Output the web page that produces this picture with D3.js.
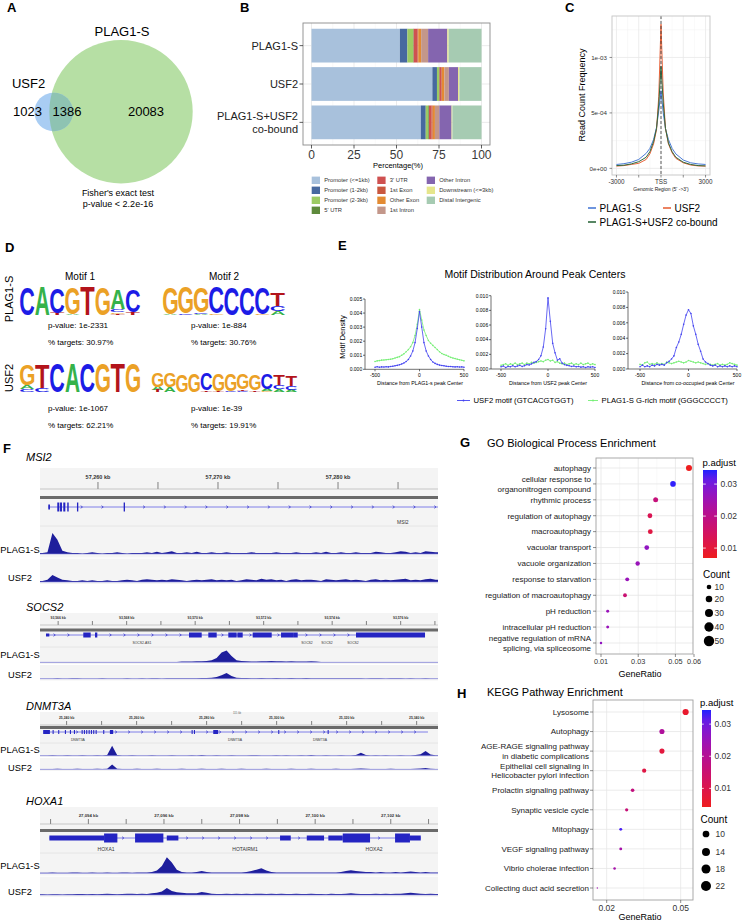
<!DOCTYPE html>
<html>
<head>
<meta charset="utf-8">
<script src="https://cdn.jsdelivr.net/npm/d3@7"></script>
<style>
html,body{margin:0;padding:0;background:#fff;}
svg{display:block;}
</style>
</head>
<body>
<script>
/* ======================= DATA ======================= */
// A – Venn
const vennSetNames = ["USF2", "PLAG1-S"];
const vennRegionCounts = [1023, 1386, 20083]; // USF2 only, overlap, PLAG1-S only
const vennNote = ["Fisher's exact test", "p-value < 2.2e-16"];

// B – peak annotation (%)
const annoGroups = ["PLAG1-S", "USF2", "PLAG1-S+USF2\nco-bound"];
const annoFeatures = ["Promoter (<=1kb)", "Promoter (1-2kb)", "Promoter (2-3kb)", "5' UTR", "3' UTR", "1st Exon", "Other Exon", "1st Intron", "Other Intron", "Downstream (<=3kb)", "Distal Intergenic"];
const annoPlag1 = [52.0, 4.4, 3.4, 0.3, 2.2, 0.5, 1.7, 4.1, 11.3, 0.8, 19.3];
const annoUsf2 = [71.1, 2.7, 1.2, 0.3, 1.0, 0.4, 1.5, 2.6, 5.4, 0.8, 13.0];
const annoCobound = [64.3, 2.9, 1.5, 0.4, 1.4, 0.8, 1.3, 2.6, 7.2, 0.5, 17.1];
const annoColors = ["#a8c1dc", "#47699f", "#9ccb63", "#5e8a3c", "#cf5150", "#c9583f", "#e38b33", "#c3978a", "#8465af", "#e6e68c", "#a6cbb2"];
const annoTicks = [0, 25, 50, 75, 100];

// C – average profile around TSS (x1e-4)
const profPos = [-3000, -2500, -2000, -1500, -1000, -750, -500, -300, -150, 0, 150, 300, 500, 750, 1000, 1500, 2000, 2500, 3000];
const profPlag1 = [0.35, 0.42, 0.55, 0.8, 1.35, 1.8, 2.6, 3.7, 5.2, 7.0, 5.0, 3.6, 2.6, 1.8, 1.3, 0.75, 0.5, 0.4, 0.35];
const profUsf2 = [0.2, 0.25, 0.35, 0.45, 0.8, 1.3, 2.2, 3.5, 6.5, 13.0, 6.8, 3.6, 2.2, 1.4, 0.9, 0.5, 0.3, 0.22, 0.2];
const profCobound = [0.25, 0.28, 0.4, 0.6, 1.0, 1.5, 2.4, 3.6, 5.8, 9.2, 5.9, 3.6, 2.3, 1.5, 1.0, 0.55, 0.35, 0.25, 0.22];
const profSeriesNames = ["PLAG1-S", "USF2", "PLAG1-S+USF2 co-bound"];
const profYTicks = [0, 5, 10];
const profYLabels = ["0e+00", "5e-04", "1e-03"];
const profXTicks = [-3000, -1500, 0, 1500, 3000];
const profXLabels = ["-3000", "", "TSS", "", "3000"];

// D – motifs: columns bottom->top [letter, bits]
const motifPlagM1 = [[["C", 2.0]], [["A", 2.0]], [["T", 0.15], ["C", 1.75]], [["A", 0.08], ["G", 1.9]], [["T", 2.0]], [["G", 1.95]], [["T", 0.1], ["G", 0.12], ["C", 0.2], ["A", 1.35]], [["T", 0.22], ["C", 1.55]]];
const motifPlagM2 = [[["A", 0.06], ["G", 1.9]], [["C", 0.1], ["G", 1.85]], [["A", 0.06], ["C", 0.12], ["G", 1.78]], [["G", 0.1], ["C", 1.85]], [["C", 1.95]], [["C", 1.95]], [["G", 0.06], ["C", 1.85]], [["A", 0.3], ["C", 0.35], ["T", 0.9]]];
const motifUsfM1 = [[["C", 0.18], ["A", 0.25], ["G", 1.4]], [["C", 0.28], ["T", 1.6]], [["C", 2.0]], [["A", 2.0]], [["C", 2.0]], [["G", 2.0]], [["T", 2.0]], [["G", 2.0]]];
const motifUsfM2 = [[["T", 0.15], ["A", 0.25], ["G", 1.15]], [["A", 0.4], ["G", 1.15]], [["G", 1.4]], [["G", 1.45]], [["T", 0.12], ["C", 1.35]], [["T", 0.1], ["G", 1.4]], [["C", 0.1], ["G", 1.35]], [["C", 0.1], ["T", 0.12], ["G", 1.25]], [["T", 0.12], ["G", 1.3]], [["G", 0.1], ["A", 0.15], ["C", 1.25]], [["A", 0.2], ["C", 0.35], ["T", 0.8]], [["A", 0.15], ["C", 0.35], ["T", 0.8]]];
const motifTitles = ["Motif 1", "Motif 2"];
const motifRows = ["PLAG1-S", "USF2"];
const motifPvalues = [["1e-2331", "1e-884"], ["1e-1067", "1e-39"]];
const motifTargets = [["30.97%", "30.76%"], ["62.21%", "19.91%"]];
const baseColors = { A: "#35b24a", C: "#1c1ce6", G: "#eba126", T: "#b3141b" };

// E – motif density (x1e-3) vs distance from peak centre
const eDist = [-500, -475, -450, -425, -400, -375, -350, -325, -300, -275, -250, -225, -200, -175, -150, -125, -100, -75, -50, -25, 0, 25, 50, 75, 100, 125, 150, 175, 200, 225, 250, 275, 300, 325, 350, 375, 400, 425, 450, 475, 500];
const e1Usf = [0.15, 0.18, 0.15, 0.17, 0.16, 0.18, 0.17, 0.2, 0.22, 0.25, 0.28, 0.32, 0.38, 0.45, 0.55, 0.7, 0.95, 1.3, 1.9, 2.9, 4.1, 3.0, 1.9, 1.3, 0.95, 0.7, 0.52, 0.42, 0.35, 0.3, 0.27, 0.25, 0.22, 0.2, 0.2, 0.18, 0.17, 0.18, 0.16, 0.17, 0.15];
const e1Grich = [0.55, 0.6, 0.62, 0.65, 0.66, 0.68, 0.7, 0.72, 0.75, 0.8, 0.85, 0.9, 1.0, 1.1, 1.25, 1.4, 1.6, 1.9, 2.4, 3.2, 4.25, 3.5, 2.8, 2.4, 2.05, 1.85, 1.7, 1.55, 1.4, 1.25, 1.12, 1.05, 1.0, 0.92, 0.85, 0.8, 0.76, 0.72, 0.68, 0.64, 0.6];
const e2Usf = [0.3, 0.4, 0.2, 0.35, 0.3, 0.45, 0.3, 0.4, 0.5, 0.35, 0.45, 0.6, 0.55, 0.7, 0.9, 1.0, 1.3, 1.8, 3.0, 5.5, 9.7, 6.5, 3.5, 2.2, 1.2, 1.4, 0.8, 0.6, 0.5, 0.45, 0.35, 0.4, 0.3, 0.35, 0.25, 0.3, 0.2, 0.3, 0.25, 0.3, 0.2];
const e2Grich = [0.5, 0.6, 0.7, 0.5, 0.7, 0.6, 0.8, 0.6, 0.7, 0.8, 0.6, 0.8, 0.7, 0.9, 0.8, 0.9, 1.0, 1.1, 1.0, 1.2, 1.3, 1.1, 1.2, 0.9, 1.0, 0.8, 0.7, 0.8, 0.6, 0.7, 0.8, 0.6, 0.7, 0.6, 0.8, 0.6, 0.7, 0.8, 0.6, 0.7, 0.6];
const e3Usf = [0.3, 0.5, 0.3, 0.4, 0.3, 0.5, 0.4, 0.6, 0.5, 0.6, 0.5, 0.8, 1.0, 1.3, 1.7, 2.8, 3.5, 4.5, 5.8, 7.0, 7.7, 7.2, 5.6, 4.5, 3.2, 2.3, 1.3, 0.9, 0.7, 0.5, 0.4, 0.5, 0.3, 0.4, 0.3, 0.4, 0.3, 0.4, 0.3, 0.4, 0.3];
const e3Grich = [0.6, 0.5, 0.8, 0.9, 0.6, 0.7, 0.6, 0.8, 0.6, 0.7, 0.6, 0.9, 0.8, 0.7, 0.8, 0.9, 1.0, 0.9, 0.8, 0.9, 1.1, 1.0, 0.9, 0.8, 0.9, 0.8, 0.7, 0.6, 0.7, 0.6, 0.5, 0.6, 0.7, 0.5, 0.6, 0.5, 0.6, 0.8, 0.7, 0.6, 0.5];
const eYTicks5 = [0, 1, 2, 3, 4, 5];
const eYTicks10 = [0, 2, 4, 6, 8, 10];
const eXTicks = [-500, 0, 500];
const eAxisTitles = ["Distance from PLAG1-s peak Center", "Distance from USF2 peak Center", "Distance from co-occupied peak Center"];
const eLegend = ["USF2 motif (GTCACGTGGT)", "PLAG1-S  G-rich motif (GGGCCCCT)"];

// F – genome browser tracks
const igvLoci = ["MSI2", "SOCS2", "DNMT3A", "HOXA1"];
const igvDomains = [[57255.17, 57288.33], [93565.47, 93577.09], [25232.4, 25346.1], [27092.72, 27103.25]];
const igvTicks = [
  [57260, 57265, 57270, 57275, 57280, 57285],
  [93566, 93567, 93568, 93569, 93570, 93571, 93572, 93573, 93574, 93575, 93576, 93577],
  [25240, 25250, 25260, 25270, 25280, 25290, 25300, 25310, 25320, 25330, 25340],
  [27093, 27094, 27095, 27096, 27097, 27098, 27099, 27100, 27101, 27102, 27103]];
const igvLabeledTicks = [
  [57260, 57270, 57280],
  [93566, 93568, 93570, 93572, 93574, 93576],
  [25240, 25260, 25280, 25300, 25320, 25340],
  [27094, 27096, 27098, 27100, 27102]];
const igvGeneSpan = [[57255.86, 57288.33], [93565.645, 93576.711], [25233.31, 25343.23], [27092.968, 27102.794]];
const igvExons = [
  [[57255.86, 57256.0, "utr"], [57256.61, 57256.78, "cds"], [57256.84, 57257.0, "cds"], [57257.11, 57257.28, "cds"], [57257.44, 57257.56, "cds"], [57258.25, 57258.36, "cds"], [57262.14, 57262.25, "cds"]],
  [[93565.645, 93565.742, "utr"], [93566.734, 93566.95, "cds"], [93567.076, 93567.143, "cds"], [93569.82, 93570.191, "cds"], [93570.384, 93570.629, "cds"], [93570.968, 93571.213, "cds"], [93571.231, 93571.388, "cds"], [93571.68, 93572.235, "cds"], [93572.507, 93572.86, "cds"], [93572.86, 93572.994, "cds"], [93574.696, 93576.711, "cds"]],
  [[25233.31, 25235.23, "cds"], [25236.0, 25236.3, "cds"], [25237.6, 25237.9, "cds"], [25239.51, 25239.81, "cds"], [25240.94, 25241.24, "cds"], [25242.09, 25242.39, "cds"], [25244.29, 25244.59, "cds"], [25244.94, 25245.24, "cds"], [25245.6, 25245.9, "cds"], [25246.29, 25246.59, "cds"], [25246.94, 25247.24, "cds"], [25247.6, 25247.9, "cds"], [25248.29, 25248.59, "cds"], [25250.46, 25250.76, "cds"], [25252.37, 25253.31, "cds"], [25275.71, 25276.01, "cds"], [25276.37, 25276.67, "cds"], [25281.89, 25283.31, "cds"], [25300.46, 25300.76, "cds"], [25314.57, 25314.87, "cds"]],
  [[27092.968, 27094.415, "utr"], [27094.415, 27094.767, "cds"], [27095.235, 27095.984, "cds"], [27096.074, 27096.381, "utr"], [27099.071, 27099.354, "utr"], [27099.778, 27100.235, "utr"], [27100.349, 27100.73, "utr"], [27100.73, 27101.452, "cds"], [27102.114, 27102.508, "cds"], [27102.508, 27102.794, "utr"]]];
const igvGeneLabels = [
  [["MSI2", 57285.4]],
  [["SOCS2-AS1", 93568.448], ["SOCS2", 93573.266], ["SOCS2", 93573.85], ["SOCS2", 93574.609]],
  [["DNMT3A", 25243.23], ["DNMT3A", 25288.09], ["DNMT3A", 25312.37]],
  [["HOXA1", 27094.468], ["HOTAIRM1", 27098.146], ["HOXA2", 27101.558]]];
const igvTrackNames = ["PLAG1-S", "USF2"];
const msi2Plag = [1, 1.5, 19, 13, 3, 1.5, 1, 1, 0.5, 1, 1.5, 1, 0.5, 1, 1, 1.5, 1, 0.5, 1, 1, 1, 1.5, 1, 2, 1, 1.5, 2.5, 1, 1, 1.5, 1, 2, 1, 1, 1.5, 1, 1, 1.5, 1, 1, 1, 1, 1.5, 1, 1, 1, 1, 1.5, 1, 1, 1, 1.5, 1, 1, 1, 1.5, 1, 2, 1, 1, 1.5, 1, 1, 1.5, 1, 1, 1, 2, 1.5, 1, 1, 1.5, 2.5, 2, 1, 1.5, 1, 2.5, 2, 1.5];
const msi2Usf = [1, 2, 6.4, 4, 2, 1.5, 1, 1, 1.5, 1, 1.5, 1, 1, 1.5, 1, 1, 1.5, 2, 1.5, 1, 2, 2.5, 2, 1.5, 2, 1.5, 2.5, 2, 1.5, 1, 1.5, 2, 1.5, 2, 2.5, 1.5, 2, 1.5, 2, 1, 1.5, 2.5, 2, 1.5, 3, 2, 2.5, 1.5, 2, 1, 2, 2.5, 1.5, 2, 2, 1.5, 1, 2.5, 2, 1.5, 2, 2.5, 1.5, 2, 1.5, 1, 2, 2.5, 1.5, 2, 1.5, 2, 2.5, 3, 1.5, 2, 1.5, 2.5, 3, 2];
const socs2Plag = [0.3, 0.3, 0.5, 0.3, 0.3, 0.5, 0.3, 0.3, 0.3, 0.5, 0.5, 0.3, 0.3, 0.5, 0.3, 0.5, 0.5, 0.3, 0.5, 0.3, 0.5, 0.3, 0.5, 0.3, 0.3, 0.5, 0.5, 0.5, 1, 1, 1, 1.5, 1.5, 2, 3, 6, 14, 17, 9, 3, 2, 1.5, 1, 1, 1.5, 1.5, 2, 1.5, 1.5, 1, 1.5, 1, 1, 1, 1.5, 1, 0.5, 0.5, 0.5, 0.3, 0.5, 0.3, 0.3, 0.5, 0.3, 0.3, 0.5, 0.3, 0.3, 0.3, 0.5, 0.3, 0.3, 0.3, 0.3, 0.3, 0.5, 0.3, 0.3, 0.3];
const socs2Usf = [0.3, 0.3, 0.3, 0.5, 0.3, 0.3, 0.5, 0.5, 0.3, 0.3, 0.3, 0.3, 0.5, 0.3, 0.3, 0.3, 0.3, 0.5, 0.3, 0.3, 0.5, 0.3, 0.5, 0.5, 0.3, 0.5, 0.5, 0.5, 0.5, 0.5, 0.5, 0.8, 1, 1, 1.5, 2.5, 5, 8, 4, 1.5, 1, 1, 0.8, 0.8, 1, 0.8, 0.8, 1, 0.8, 0.8, 1, 0.8, 0.8, 1, 0.8, 0.5, 0.5, 0.8, 0.5, 0.5, 0.5, 0.5, 0.8, 0.5, 0.5, 0.3, 0.5, 0.5, 0.5, 0.3, 0.5, 0.8, 0.5, 0.3, 0.5, 0.3, 0.3, 0.5, 0.3, 0.3];
const dnmtPlag = [0.5, 0.5, 0.8, 0.5, 0.5, 0.8, 0.5, 0.5, 0.8, 0.5, 0.5, 0.8, 0.5, 1, 16.7, 1, 0.5, 0.5, 0.8, 0.5, 0.5, 0.5, 0.8, 0.5, 0.5, 0.5, 0.8, 0.5, 0.5, 0.5, 0.8, 0.5, 1.2, 0.5, 0.5, 0.8, 0.5, 0.5, 0.8, 0.5, 0.5, 0.5, 0.8, 0.8, 0.5, 0.5, 0.5, 0.8, 0.5, 0.8, 0.5, 0.5, 0.8, 0.5, 1.2, 0.5, 0.5, 0.8, 0.5, 0.5, 0.8, 0.5, 0.5, 1, 5, 1, 0.5, 0.8, 0.5, 0.8, 0.5, 0.5, 0.8, 0.5, 0.5, 1, 2.5, 8, 2, 0.8];
const dnmtUsf = [0.5, 0.5, 0.5, 0.8, 0.5, 0.5, 0.5, 0.8, 0.5, 0.5, 0.5, 0.8, 0.5, 1, 8, 1, 0.5, 0.5, 0.5, 0.8, 0.5, 0.5, 0.5, 0.8, 0.5, 0.5, 0.5, 0.5, 0.8, 0.5, 0.5, 0.5, 0.8, 0.5, 0.5, 0.5, 0.8, 0.5, 0.5, 0.5, 0.8, 0.5, 0.5, 0.5, 0.5, 0.8, 0.5, 0.5, 0.5, 0.5, 0.8, 0.5, 0.5, 0.5, 0.8, 0.5, 0.5, 0.5, 0.5, 0.8, 0.5, 0.5, 0.5, 0.8, 1.5, 0.8, 0.5, 0.5, 0.5, 0.5, 0.8, 0.5, 0.5, 0.5, 0.5, 0.8, 1.5, 2, 1, 0.5];
const hoxaPlag = [0.5, 0.5, 0.8, 0.5, 0.5, 0.5, 0.8, 1, 0.5, 0.5, 0.8, 0.5, 0.5, 0.8, 0.5, 0.5, 0.8, 1, 0.5, 0.8, 1, 0.8, 1.5, 3, 8, 17.8, 12, 4, 1.5, 1, 1, 1.5, 2.5, 1.5, 1, 0.8, 0.8, 1, 0.8, 0.8, 1, 1.5, 2.5, 4, 5.5, 3, 1.5, 1, 0.8, 1, 0.8, 1, 0.8, 0.8, 1, 0.8, 1, 1, 0.8, 1, 1.5, 2.5, 3.3, 2.5, 2, 1.5, 1.5, 1, 1.5, 1, 1, 1.5, 1, 1.5, 2, 1.5, 1, 1.5, 1, 0.8];
const hoxaUsf = [0.8, 0.5, 0.8, 0.8, 0.5, 0.8, 0.8, 1, 1, 0.8, 1, 0.8, 1, 1.5, 1, 0.8, 1, 1.5, 1.5, 1, 1.5, 1, 2, 2.5, 4, 7.8, 4.5, 3, 2.5, 2, 2, 2, 3.3, 2.5, 1.5, 1, 1, 1.5, 1, 1.5, 1, 1.5, 1, 1.5, 1.5, 1, 1.5, 1, 1.5, 1, 1, 1.5, 1, 1, 1.5, 1, 1, 0.8, 1.5, 1, 1, 1.5, 2, 1.5, 1, 1, 1, 1.5, 1, 1.5, 1, 1.5, 1.5, 2, 2.5, 2, 1.5, 1, 1.5, 1];
const igvCoverage = [[msi2Plag, msi2Usf], [socs2Plag, socs2Usf], [dnmtPlag, dnmtUsf], [hoxaPlag, hoxaUsf]];

// G – GO enrichment
const goTerms = ["autophagy", "cellular response to\norganonitrogen compound", "rhythmic process", "regulation of autophagy", "macroautophagy", "vacuolar transport", "vacuole organization", "response to starvation", "regulation of macroautophagy", "pH reduction", "intracellular pH reduction", "negative regulation of mRNA\nsplicing, via spliceosome"];
const goRatio = [0.0573, 0.0487, 0.0394, 0.0363, 0.0365, 0.0346, 0.0297, 0.0241, 0.0229, 0.0136, 0.0136, 0.0100];
const goCount = [57, 49, 39, 36, 36, 35, 30, 24, 23, 14, 14, 10];
const goPadj = [0.007, 0.034, 0.018, 0.013, 0.011, 0.027, 0.026, 0.026, 0.017, 0.026, 0.026, 0.027];
const goXTicks = [0.01, 0.03, 0.05, 0.06];
const goColorTicks = [0.01, 0.02, 0.03];
const goSizeBreaks = [10, 20, 30, 40, 50];

// H – KEGG enrichment
const keggTerms = ["Lysosome", "Autophagy", "AGE-RAGE signaling pathway\nin diabetic complications", "Epithelial cell signaling in\nHelicobacter pylori infection", "Prolactin signaling pathway", "Synaptic vesicle cycle", "Mitophagy", "VEGF signaling pathway", "Vibrio cholerae infection", "Collecting duct acid secretion"];
const keggRatio = [0.052, 0.0424, 0.0424, 0.0352, 0.0305, 0.0281, 0.0257, 0.0257, 0.0232, 0.0162];
const keggCount = [22, 18, 18, 15, 13, 12, 11, 11, 10, 7];
const keggPadj = [0.006, 0.021, 0.008, 0.009, 0.017, 0.016, 0.033, 0.023, 0.023, 0.024];
const keggXTicks = [0.02, 0.05];
const keggColorTicks = [0.01, 0.02, 0.03];
const keggSizeBreaks = [10, 14, 18, 22];

/* ======================= DRAWING ======================= */
const FONT = "'Liberation Sans', Arial, Helvetica, sans-serif";
const svg = d3.select("body").append("svg").attr("width", 748).attr("height", 921).attr("font-family", FONT);
svg.append("rect").attr("width", 748).attr("height", 921).attr("fill", "#fff");
const defs = svg.append("defs");

function T(g, x, y, s, o = {}) {
  const t = g.append("text").attr("x", x).attr("y", y).text(s)
    .attr("font-size", o.size || 10).attr("fill", o.fill || "#000");
  if (o.anchor) t.attr("text-anchor", o.anchor);
  if (o.weight) t.attr("font-weight", o.weight);
  if (o.italic) t.attr("font-style", "italic");
  if (o.rot != null) t.attr("transform", `rotate(${o.rot},${x},${y})`);
  return t;
}
function L(g, x1, y1, x2, y2, stroke, w, dash) {
  const l = g.append("line").attr("x1", x1).attr("y1", y1).attr("x2", x2).attr("y2", y2)
    .attr("stroke", stroke).attr("stroke-width", w);
  if (dash) l.attr("stroke-dasharray", dash);
  return l;
}

// panel letters
[["A", 7, 12], ["B", 240, 12], ["C", 565, 12], ["D", 5, 252], ["E", 338, 250], ["F", 3, 453], ["G", 460, 447], ["H", 457, 698]]
  .forEach(([s, x, y]) => T(svg, x, y, s, { size: 13, weight: "bold" }));

/* ---------- A: Venn ---------- */
(function () {
  const g = svg.append("g");
  const totU = vennRegionCounts[0] + vennRegionCounts[1];
  const totP = vennRegionCounts[1] + vennRegionCounts[2];
  const rS = d3.scalePow().exponent(0.6).domain([0, totP]).range([0, 71.7]);
  const cP = { x: 121, y: 111.7, r: rS(totP) }, cU = { x: 53.7, y: 112, r: rS(totU) };
  g.append("circle").attr("cx", cP.x).attr("cy", cP.y).attr("r", cP.r).attr("fill", "#b6dfa4");
  g.append("circle").attr("cx", cU.x).attr("cy", cU.y).attr("r", cU.r).attr("fill", "#a9cdf3");
  defs.append("clipPath").attr("id", "clipP").append("circle").attr("cx", cP.x).attr("cy", cP.y).attr("r", cP.r);
  g.append("circle").attr("cx", cU.x).attr("cy", cU.y).attr("r", cU.r).attr("fill", "#8ec3b2").attr("clip-path", "url(#clipP)");
  T(g, 122, 36, vennSetNames[1], { size: 13, anchor: "middle" });
  T(g, 28.5, 88, vennSetNames[0], { size: 13, anchor: "middle" });
  T(g, 27.5, 116, String(vennRegionCounts[0]), { size: 13, anchor: "middle" });
  T(g, 67, 116, String(vennRegionCounts[1]), { size: 13, anchor: "middle" });
  T(g, 146, 116, String(vennRegionCounts[2]), { size: 13, anchor: "middle" });
  T(g, 118, 196, vennNote[0], { size: 9, anchor: "middle" });
  T(g, 118, 207, vennNote[1], { size: 9, anchor: "middle" });
})();

/* ---------- B: annotation bars ---------- */
(function () {
  const g = svg.append("g");
  const x0 = 303, x1 = 490, y0 = 23, y1 = 145;
  const x = d3.scaleLinear().domain([-5, 105]).range([x0, x1]);
  const y = d3.scaleBand().domain(annoGroups).range([y0, y1]).paddingInner(0.12).paddingOuter(0.15);
  [12.5, 37.5, 62.5, 87.5].forEach(v => L(g, x(v), y0, x(v), y1, "#f2f2f2", 0.5));
  annoTicks.forEach(v => L(g, x(v), y0, x(v), y1, "#e6e6e6", 0.8));
  annoGroups.forEach(gr => L(g, x0, y(gr) + y.bandwidth() / 2, x1, y(gr) + y.bandwidth() / 2, "#e6e6e6", 0.8));
  [annoPlag1, annoUsf2, annoCobound].forEach((vals, gi) => {
    let cum = 0;
    vals.forEach((v, fi) => {
      g.append("rect").attr("x", x(cum)).attr("y", y(annoGroups[gi]))
        .attr("width", Math.max(0, x(cum + v) - x(cum))).attr("height", y.bandwidth())
        .attr("fill", annoColors[fi]);
      cum += v;
    });
  });
  g.append("rect").attr("x", x0).attr("y", y0).attr("width", x1 - x0).attr("height", y1 - y0)
    .attr("fill", "none").attr("stroke", "#8a8a8a").attr("stroke-width", 0.9);
  annoTicks.forEach(v => {
    L(g, x(v), y1, x(v), y1 + 3.5, "#333", 0.8);
    T(g, x(v), 159, String(v), { size: 12, anchor: "middle", fill: "#3a3a3a" });
  });
  annoGroups.forEach(gr => {
    const cy = y(gr) + y.bandwidth() / 2;
    L(g, x0 - 3.5, cy, x0, cy, "#333", 0.8);
    const lines = gr.split("\n");
    lines.forEach((ln, i) => T(g, 298, cy + 4 + (i - (lines.length - 1) / 2) * 12.5, ln, { size: 11, anchor: "end", fill: "#222" }));
  });
  T(g, 398, 168, "Percentage(%)", { size: 7.5, anchor: "middle" });
  // legend
  const colX = [311.7, 377.3, 426.7], rowY = [180.3, 190.3, 200.3, 210.3];
  annoFeatures.forEach((f, i) => {
    const c = i < 4 ? 0 : (i < 8 ? 1 : 2), r = i < 4 ? i : (i < 8 ? i - 4 : i - 8);
    g.append("rect").attr("x", colX[c]).attr("y", rowY[r] - 3.7).attr("width", 8.3).attr("height", 7.4).attr("fill", annoColors[i]);
    T(g, colX[c] + 12.5, rowY[r] + 2.1, f, { size: 5.8, fill: "#333" });
  });
})();

/* ---------- C: TSS profile ---------- */
(function () {
  const g = svg.append("g");
  const x0 = 612, x1 = 710, y0 = 16, y1 = 175;
  const x = d3.scaleLinear().domain([-3300, 3300]).range([x0, x1]);
  const y = d3.scaleLinear().domain([-0.6, 13.74]).range([y1, y0]);
  g.append("rect").attr("x", x0).attr("y", y0).attr("width", x1 - x0).attr("height", y1 - y0).attr("fill", "#fff");
  [-2250, -750, 750, 2250].forEach(v => L(g, x(v), y0, x(v), y1, "#f3f3f3", 0.5));
  [2.5, 7.5, 12.5].forEach(v => L(g, x0, y(v), x1, y(v), "#f3f3f3", 0.5));
  profXTicks.forEach(v => L(g, x(v), y0, x(v), y1, "#e8e8e8", 0.8));
  profYTicks.forEach(v => L(g, x0, y(v), x1, y(v), "#e8e8e8", 0.8));
  const line = d3.line().x((d, i) => x(profPos[i])).y(d => y(d));
  const cols = ["#4a7bd6", "#e8643b", "#2f6a3e"];
  [profPlag1, profUsf2, profCobound].forEach((s, i) =>
    g.append("path").attr("d", line(s)).attr("fill", "none").attr("stroke", cols[i]).attr("stroke-width", 1));
  L(g, x(0), y0, x(0), y1, "#333", 0.8, "3,2");
  g.append("rect").attr("x", x0).attr("y", y0).attr("width", x1 - x0).attr("height", y1 - y0)
    .attr("fill", "none").attr("stroke", "#c4c4c4").attr("stroke-width", 0.9);
  profXTicks.forEach((v, i) => {
    L(g, x(v), y1, x(v), y1 + 2.5, "#444", 0.6);
    if (profXLabels[i]) T(g, x(v), 184, profXLabels[i], { size: 6.3, anchor: "middle", fill: "#333" });
  });
  profYTicks.forEach((v, i) => {
    L(g, x0 - 2.5, y(v), x0, y(v), "#444", 0.6);
    T(g, 607, y(v) + 2.2, profYLabels[i], { size: 6.2, anchor: "end", fill: "#333" });
  });
  T(g, 661, 190.5, "Genomic Region (5' ->3')", { size: 5, anchor: "middle", fill: "#222" });
  T(g, 585, 95, "Read Count Frequency", { size: 9, anchor: "middle", rot: -90 });
  // legend
  const lg = [[588, 208, 0], [663, 208, 1], [588, 222, 2]];
  lg.forEach(([lx, ly, i]) => {
    L(g, lx, ly, lx + 8, ly, cols[i], 1.6);
    T(g, lx + 11.5, ly + 3.6, profSeriesNames[i], { size: 10 });
  });
})();

/* ---------- D: motif logos ---------- */
(function () {
  const g = svg.append("g");
  const ctx = document.createElement("canvas").getContext("2d");
  ctx.font = "bold 100px 'Liberation Sans'";
  const met = {};
  "ACGT".split("").forEach(c => {
    const m = ctx.measureText(c);
    met[c] = { l: m.actualBoundingBoxLeft, r: m.actualBoundingBoxRight, a: m.actualBoundingBoxAscent, d: m.actualBoundingBoxDescent };
  });
  function logo(cols, xa, xb, base, pxPerBit) {
    const x = d3.scaleBand().domain(d3.range(cols.length)).range([xa, xb]).paddingInner(0.06);
    const h = d3.scaleLinear().domain([0, 2]).range([0, 2 * pxPerBit]);
    cols.forEach((col, i) => {
      let cum = 0;
      col.forEach(([c, b]) => {
        const m = met[c], hh = h(b), w = x.bandwidth();
        const sx = w / (m.l + m.r), sy = hh / (m.a + m.d);
        g.append("text").text(c).attr("font-size", 100).attr("font-weight", "bold")
          .attr("font-family", "'Liberation Sans'").attr("fill", baseColors[c])
          .attr("transform", `translate(${x(i)},${base - h(cum)}) scale(${sx},${sy}) translate(${m.l},${-m.d})`);
        cum += b;
      });
    });
  }
  T(g, 80, 280, motifTitles[0], { size: 10, anchor: "middle" });
  T(g, 224, 280, motifTitles[1], { size: 10, anchor: "middle" });
  T(g, 13, 299, motifRows[0], { size: 11, anchor: "middle", rot: -90 });
  T(g, 13, 378, motifRows[1], { size: 11, anchor: "middle", rot: -90 });
  logo(motifPlagM1, 20, 140, 315, 14);
  logo(motifPlagM2, 163, 285, 315, 14);
  logo(motifUsfM1, 20, 140, 392, 14.5);
  logo(motifUsfM2, 152, 297, 392, 12.5);
  const tx = [48, 191], py = [[328, 345], [411, 428]];
  [0, 1].forEach(r => [0, 1].forEach(c => {
    T(g, tx[c], py[r][0], "p-value: " + motifPvalues[r][c], { size: 8 });
    T(g, tx[c], py[r][1], "% targets: " + motifTargets[r][c], { size: 8 });
  }));
})();

/* ---------- E: motif distribution ---------- */
(function () {
  const g = svg.append("g");
  T(g, 535, 278, "Motif Distribution Around Peak Centers", { size: 10.5, anchor: "middle" });
  T(g, 345, 337, "Motif Density", { size: 7.5, anchor: "middle", rot: -90 });
  const subs = [
    { usf: e1Usf, gr: e1Grich, ticks: eYTicks5, ax: 365, xr: [375, 464], yr: [369.3, 299], tc: 420 },
    { usf: e2Usf, gr: e2Grich, ticks: eYTicks10, ax: 491, xr: [501, 595], yr: [369, 295.7], tc: 548 },
    { usf: e3Usf, gr: e3Grich, ticks: eYTicks10, ax: 628, xr: [640, 737], yr: [369, 292], tc: 688 }];
  const blue = "#4343f0", green = "#74ee74";
  subs.forEach((s, si) => {
    const x = d3.scaleLinear().domain([-500, 500]).range(s.xr);
    const y = d3.scaleLinear().domain([0, s.ticks[s.ticks.length - 1]]).range(s.yr);
    const line = d3.line().x((d, i) => x(eDist[i])).y(d => y(d));
    [[s.gr, green], [s.usf, blue]].forEach(([arr, col]) => {
      g.append("path").attr("d", line(arr)).attr("fill", "none").attr("stroke", col).attr("stroke-width", 0.8);
      arr.forEach((v, i) => g.append("circle").attr("cx", x(eDist[i])).attr("cy", y(v)).attr("r", 0.8).attr("fill", col));
    });
    L(g, s.ax, s.yr[0], s.ax, s.yr[1], "#111", 0.6);
    L(g, s.ax, s.yr[0], s.xr[1], s.yr[0], "#111", 0.6);
    s.ticks.forEach(v => {
      L(g, s.ax - 2, y(v), s.ax, y(v), "#111", 0.6);
      T(g, s.ax - 2.8, y(v) + 1.8, (v / 1000).toFixed(3), { size: 5, anchor: "end" });
    });
    eXTicks.forEach(v => {
      L(g, x(v), s.yr[0], x(v), s.yr[0] + 2, "#111", 0.6);
      T(g, x(v), s.yr[0] + 7.5, String(v), { size: 5, anchor: "middle" });
    });
    T(g, s.tc, 385, eAxisTitles[si], { size: 5.3, anchor: "middle" });
  });
  [[457, 470, blue, eLegend[0]], [588, 598, green, eLegend[1]]].forEach(([a, b, col, txt]) => {
    L(g, a, 400.5, b, 400.5, col, 0.9);
    g.append("circle").attr("cx", (a + b) / 2).attr("cy", 400.5).attr("r", 0.9).attr("fill", col);
    T(g, b + 3.5, 403.3, txt, { size: 7.7 });
  });
})();

/* ---------- F: genome browser ---------- */
(function () {
  const lay = [
    { title: 461, top: 468, rLab: 479, tTop: 482, rLine: 489, chrom: 497.5, gene: 507, gLab: 523.5, sep1: 526, base: [554, 582], h: [22, 22], lab: [553, 581], bottom: 584, rf: 5.5, gf: 5, cds: 9, utr: 5, arrow: 20.8 },
    { title: 611, top: 613, rLab: 619, tTop: 621, rLine: 625, chrom: 630, gene: 635, gLab: 644, sep1: 647, base: [662.3, 678.7], h: [14, 14], lab: [658, 678], bottom: 680.5, rf: 3.4, gf: 3.4, cds: 5, utr: 3, arrow: 14 },
    { title: 710, top: 712, rLab: 718.5, tTop: 721, rLine: 725, chrom: 727.5, gene: 732, gLab: 741, sep1: 743, base: [755.7, 769.3], h: [12, 12], lab: [753, 771], bottom: 771, rf: 3.4, gf: 3.4, cds: 4, utr: 2.5, arrow: 13 },
    { title: 805, top: 807, rLab: 816.5, tTop: 819, rLine: 824, chrom: 830.5, gene: 838, gLab: 850.5, sep1: 853, base: [873.3, 895], h: [18, 18], lab: [869, 895], bottom: 897, rf: 4.3, gf: 5, cds: 9, utr: 5, arrow: 16 }];
  const px0 = 40, px1 = 438;
  const fmt = d3.format(",");
  igvLoci.forEach((name, li) => {
    const o = lay[li];
    const g = svg.append("g");
    const x = d3.scaleLinear().domain(igvDomains[li]).range([px0, px1]);
    T(g, 26, o.title, name, { size: 11, italic: true });
    g.append("rect").attr("x", px0).attr("y", o.top).attr("width", px1 - px0).attr("height", o.bottom - o.top).attr("fill", "#f4f4f4");
    // ruler
    igvTicks[li].forEach(t => L(g, x(t), o.tTop, x(t), o.rLine, "#333", 0.6));
    L(g, px0, o.rLine, px1, o.rLine, "#9a9a9a", 0.5);
    igvLabeledTicks[li].forEach(t => T(g, x(t), o.rLab, fmt(t) + " kb", { size: o.rf, anchor: "middle", weight: "bold", fill: "#333" }));
    if (li === 2) T(g, 237, 713.5, "115 kb", { size: 2.8, anchor: "middle", fill: "#666" });
    g.append("rect").attr("x", px0).attr("y", o.chrom - 1.5).attr("width", px1 - px0).attr("height", 3).attr("fill", "#6a6a6a");
    // gene model
    const span = igvGeneSpan[li];
    L(g, x(span[0]), o.gene, x(span[1]), o.gene, "#7373e6", 0.9);
    const exons = igvExons[li];
    const inExon = px => exons.some(e => px >= x(e[0]) - 1.5 && px <= x(e[1]) + 1.5);
    for (let p = x(span[0]) + o.arrow * 0.6; p < x(span[1]) - 2; p += o.arrow) {
      if (!inExon(p)) g.append("path").attr("d", `M${p - 0.9},${o.gene - 1.3}L${p + 0.9},${o.gene}L${p - 0.9},${o.gene + 1.3}`)
        .attr("fill", "none").attr("stroke", "#2c2cc8").attr("stroke-width", 0.7);
    }
    exons.forEach(e => {
      const hh = e[2] === "cds" ? o.cds : o.utr;
      g.append("rect").attr("x", x(e[0])).attr("y", o.gene - hh / 2)
        .attr("width", Math.max(0.9, x(e[1]) - x(e[0]))).attr("height", hh).attr("fill", "#2424c2");
    });
    igvGeneLabels[li].forEach(([s, pos]) => T(g, x(pos), o.gLab, s, { size: o.gf, anchor: "middle", fill: "#333" }));
    L(g, px0, o.sep1, px1, o.sep1, "#e2e2e2", 0.8);
    L(g, px0, (o.base[0] + o.base[1] - o.h[1]) / 2 + 1, px1, (o.base[0] + o.base[1] - o.h[1]) / 2 + 1, "#ffffff", 1);
    // coverage
    igvCoverage[li].forEach((cov, ti) => {
      const bx = d3.scaleLinear().domain([0, cov.length]).range(igvDomains[li]);
      const y = d3.scaleLinear().domain([0, 20]).range([o.base[ti], o.base[ti] - o.h[ti]]);
      const pts = cov.map((v, i) => [x(bx(i + 0.5)), v]);
      pts.unshift([px0, cov[0]]); pts.push([px1, cov[cov.length - 1]]);
      const area = d3.area().x(d => d[0]).y0(y(0)).y1(d => y(d[1]));
      g.append("path").attr("d", area(pts)).attr("fill", "#1e1e9c");
      L(g, px0, y(0), px1, y(0), "#8c8ce0", 0.6);
      T(g, 20, o.lab[ti], igvTrackNames[ti], { size: 9.3, anchor: "middle" });
    });
  });
})();

/* ---------- G & H: enrichment dot plots ---------- */
function dotPlot(o) {
  const g = svg.append("g");
  const x = d3.scaleLinear().domain(o.xDomain).range([o.x0, o.x1]);
  const y = d3.scalePoint().domain(o.terms).range(o.yRange);
  const col = d3.scaleLinear().domain(o.cDomain).range(["#ee1d1d", "#2121ff"]).interpolate(d3.interpolateLab).clamp(true);
  T(g, o.titleX, o.titleY, o.title, { size: 11 });
  g.append("rect").attr("x", o.x0).attr("y", o.y0).attr("width", o.x1 - o.x0).attr("height", o.y1 - o.y0).attr("fill", "#fff");
  o.minor.forEach(v => L(g, x(v), o.y0, x(v), o.y1, "#f3f3f3", 0.5));
  o.xTicks.forEach(v => { if (x(v) <= o.x1) L(g, x(v), o.y0, x(v), o.y1, "#e6e6e6", 0.8); });
  o.terms.forEach(t => L(g, o.x0, y(t), o.x1, y(t), "#e6e6e6", 0.8));
  o.terms.forEach((t, i) => g.append("circle").attr("cx", x(o.ratio[i])).attr("cy", y(t))
    .attr("r", o.rScale(o.count[i])).attr("fill", col(o.padj[i])));
  g.append("rect").attr("x", o.x0).attr("y", o.y0).attr("width", o.x1 - o.x0).attr("height", o.y1 - o.y0)
    .attr("fill", "none").attr("stroke", "#a0a0a0").attr("stroke-width", 0.9);
  o.terms.forEach(t => {
    L(g, o.x0 - 3, y(t), o.x0, y(t), "#444", 0.6);
    const lines = t.split("\n");
    lines.forEach((ln, k) => T(g, o.labelX, y(t) + 2.8 + (k - (lines.length - 1) / 2) * 9.7, ln, { size: 8, anchor: "end", fill: "#1a1a1a" }));
  });
  o.xTicks.forEach(v => {
    L(g, x(v), o.y1, x(v), o.y1 + 3, "#444", 0.6);
    T(g, x(v), o.tickY, String(v), { size: o.tickSize, anchor: "middle", fill: "#333" });
  });
  T(g, 640, o.axisTitleY, "GeneRatio", { size: 9, anchor: "middle" });
  // colour bar
  const cb = o.cb;
  const gid = "grad" + o.id;
  const grad = defs.append("linearGradient").attr("id", gid).attr("x1", 0).attr("y1", 1).attr("x2", 0).attr("y2", 0);
  d3.range(0, 1.0001, 0.1).forEach(f => grad.append("stop").attr("offset", f)
    .attr("stop-color", col(o.cDomain[0] + f * (o.cDomain[1] - o.cDomain[0]))));
  T(g, cb.tx, cb.ty, "p.adjust", { size: 9.5 });
  g.append("rect").attr("x", cb.x).attr("y", cb.y).attr("width", cb.w).attr("height", cb.h).attr("fill", `url(#${gid})`);
  const cy = d3.scaleLinear().domain(o.cDomain).range([cb.y + cb.h, cb.y]);
  o.cTicks.forEach(v => {
    L(g, cb.x, cy(v), cb.x + cb.w * 0.2, cy(v), "#fff", 0.8);
    L(g, cb.x + cb.w * 0.8, cy(v), cb.x + cb.w, cy(v), "#fff", 0.8);
    T(g, cb.x + cb.w + 3.5, cy(v) + 3, String(v), { size: 8.5, fill: "#333" });
  });
  // size legend
  const sl = o.sl;
  T(g, sl.tx, sl.ty, "Count", { size: 10 });
  o.sizeBreaks.forEach((v, i) => {
    g.append("circle").attr("cx", sl.x).attr("cy", sl.ys[i]).attr("r", o.rLegend(v)).attr("fill", "#000");
    T(g, sl.lx, sl.ys[i] + 3, String(v), { size: 8.5, fill: "#333" });
  });
}

dotPlot({
  id: "G", title: "GO Biological Process Enrichment", titleX: 487, titleY: 447,
  terms: goTerms, ratio: goRatio, count: goCount, padj: goPadj,
  x0: 596, x1: 693, y0: 458, y1: 654, xDomain: [0.00731, 0.05946], yRange: [468, 643],
  xTicks: goXTicks, minor: [0.02, 0.04], labelX: 591, tickY: 664, tickSize: 7.3, axisTitleY: 677,
  rScale: d3.scaleSqrt().domain([0, 60]).range([0, 3.1]),
  rLegend: d3.scaleSqrt().domain([0, 50]).range([0, 5.2]),
  cDomain: [0.0069, 0.0344], cTicks: goColorTicks,
  cb: { x: 703, y: 470, w: 14, h: 88, tx: 702.5, ty: 466 },
  sizeBreaks: goSizeBreaks, sl: { tx: 703, ty: 578, x: 709, lx: 714.5, ys: [587, 599, 613, 627, 641] }
});
dotPlot({
  id: "H", title: "KEGG Pathway Enrichment", titleX: 487, titleY: 696,
  terms: keggTerms, ratio: keggRatio, count: keggCount, padj: keggPadj,
  x0: 593, x1: 693, y0: 700, y1: 900, xDomain: [0.01445, 0.05499], yRange: [712, 888],
  xTicks: keggXTicks, minor: [0.035], labelX: 589, tickY: 911, tickSize: 8.5, axisTitleY: 920,
  rScale: d3.scalePow().exponent(0.5).domain([7, 22]).range([0.65, 3.1]),
  rLegend: d3.scaleSqrt().domain([0, 22]).range([0, 5]),
  cDomain: [0.0042, 0.0344], cTicks: keggColorTicks,
  cb: { x: 702, y: 710, w: 9, h: 97, tx: 700, ty: 706 },
  sizeBreaks: keggSizeBreaks, sl: { tx: 700.5, ty: 823, x: 706, lx: 715.5, ys: [834, 852, 869, 886] }
});
</script>
</body>
</html>
